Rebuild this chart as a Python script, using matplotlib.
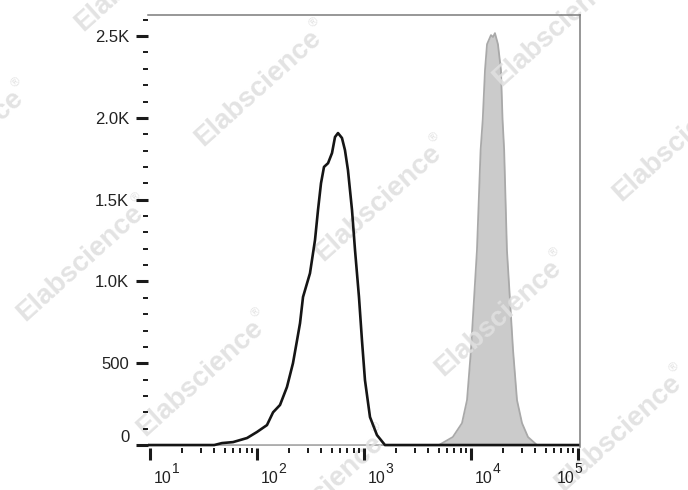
import numpy as np
import matplotlib.pyplot as plt
from matplotlib.ticker import LogLocator, MultipleLocator, FuncFormatter, NullFormatter

plt.rcParams['font.family'] = ['Liberation Sans', 'DejaVu Sans']

# unstained / isotype (black outline), log10 of intensity vs count
black_log = [0.98, 1.60, 1.673, 1.776, 1.907, 2.0, 2.093, 2.15, 2.215, 2.28, 2.336, 2.374,
             2.402, 2.43, 2.495, 2.542, 2.57, 2.598, 2.626, 2.664, 2.701, 2.729, 2.757,
             2.794, 2.822, 2.85, 2.888, 2.916, 2.953, 2.981, 3.009, 3.056, 3.121, 3.196, 5.02]
black_cnt = [0, 0, 12, 18, 43, 80, 122, 200, 245, 355, 500, 640,
             745, 905, 1050, 1253, 1436, 1600, 1700, 1723, 1785, 1883, 1907,
             1877, 1803, 1681, 1436, 1192, 905, 640, 397, 171, 61, 0, 0]

# stained sample (grey filled)
grey_log = [0.98, 3.70, 3.83, 3.916, 3.963, 4.0, 4.056, 4.09, 4.11, 4.131, 4.15, 4.187,
            4.206, 4.224, 4.252, 4.28, 4.295, 4.31, 4.336, 4.393, 4.43, 4.477, 4.533, 4.617, 5.02]
grey_cnt = [0, 0, 49, 134, 275, 581, 1192, 1803, 1990, 2292, 2450, 2506,
            2494, 2518, 2450, 2292, 1990, 1803, 1192, 581, 275, 134, 49, 0, 0]

y_ticks = [0, 500, 1000, 1500, 2000, 2500]
x_decades = [1, 2, 3, 4, 5]

black_x = np.power(10.0, black_log)
grey_x = np.power(10.0, grey_log)

fig = plt.figure(figsize=(6.88, 4.9), dpi=100)
ax = fig.add_axes([148 / 688, 1 - 447.5 / 490, 432 / 688, 432.7 / 490])

ax.fill_between(grey_x, grey_cnt, 0, color='#cbcbcb', lw=0, zorder=2)
ax.plot(grey_x, grey_cnt, color='#a9a9a9', lw=1.3, zorder=2.5)
ax.plot(black_x, black_cnt, color='#151515', lw=1.9, zorder=5, solid_joinstyle='round')

ax.set_xscale('log')
ax.set_xlim(10 ** 0.981, 10 ** 5.019)
ax.set_ylim(-15, 2630)

ax.set_yticks(y_ticks)
ax.yaxis.set_minor_locator(MultipleLocator(100))
ax.yaxis.set_major_formatter(FuncFormatter(
    lambda v, p: '0' if v == 0 else ('%d' % v if v < 1000 else '%.1fK' % (v / 1000))))
ax.xaxis.set_major_locator(LogLocator(base=10, numticks=10))
ax.xaxis.set_minor_locator(LogLocator(base=10, subs=np.arange(2, 10), numticks=20))
ax.xaxis.set_major_formatter(NullFormatter())
ax.xaxis.set_zorder(6)
ax.yaxis.set_zorder(6)

for s in ['left', 'bottom']:
    ax.spines[s].set_visible(False)
for s in ['top', 'right']:
    ax.spines[s].set_color('#7a7a7a')
    ax.spines[s].set_linewidth(1.1)
    ax.spines[s].set_zorder(6)

ax.tick_params(which='major', direction='out', length=8.5, width=2.2, color='#1a1a1a',
               labelcolor='#222222')
ax.tick_params(which='minor', direction='out', length=3.6, width=1.4, color='#1a1a1a')
ax.tick_params(axis='y', which='major', pad=5, labelsize=12)

fig.canvas.draw()
ylabs = ax.get_yticklabels()
ylabs[0].set_va('bottom')

# decade labels 10^k with a large exponent, as in the original
for k in x_decades:
    dx = 3 if k < 5 else -15
    ax.annotate('10', (10.0 ** k, 0), xycoords=('data', 'axes fraction'),
                xytext=(dx, -17), textcoords='offset points', ha='left', va='top',
                fontsize=11.5, color='#222222', annotation_clip=False, zorder=7)
    ax.annotate(str(k), (10.0 ** k, 0), xycoords=('data', 'axes fraction'),
                xytext=(dx + 12.5, -10.5), textcoords='offset points', ha='left', va='top',
                fontsize=10, color='#222222', annotation_clip=False, zorder=7)

# watermark (over the grey fill, under the black curve and axis labels)
ang = 42
a = np.array([120, 115])
b = np.array([-178, 175])
c0 = np.array([258, 88])
d = np.array([np.cos(np.radians(ang)), -np.sin(np.radians(ang))])
perp = np.array([-np.sin(np.radians(ang)), -np.cos(np.radians(ang))])
for i, j in [(0, 0), (1, 0), (2, 0), (3, 0), (0, 1), (1, 1), (2, 1), (-1, 0), (-1, 1),
             (1, -1), (2, -1)]:
    cx, cy = c0 + i * a + j * b
    ax.text(cx / 688, 1 - cy / 490, 'Elabscience', rotation=ang, ha='center', va='center',
            fontsize=20, fontweight='bold', color='#e0e0e0', alpha=0.9, zorder=3,
            rotation_mode='anchor', transform=fig.transFigure, clip_on=False)
    rx, ry = np.array([cx, cy]) + 85 * d + 11 * perp
    ax.text(rx / 688, 1 - ry / 490, '\u00ae', rotation=ang, ha='center', va='center',
            fontsize=9, color='#e0e0e0', alpha=0.9, zorder=3, rotation_mode='anchor',
            transform=fig.transFigure, clip_on=False)

fig.savefig('out.png', dpi=100)
